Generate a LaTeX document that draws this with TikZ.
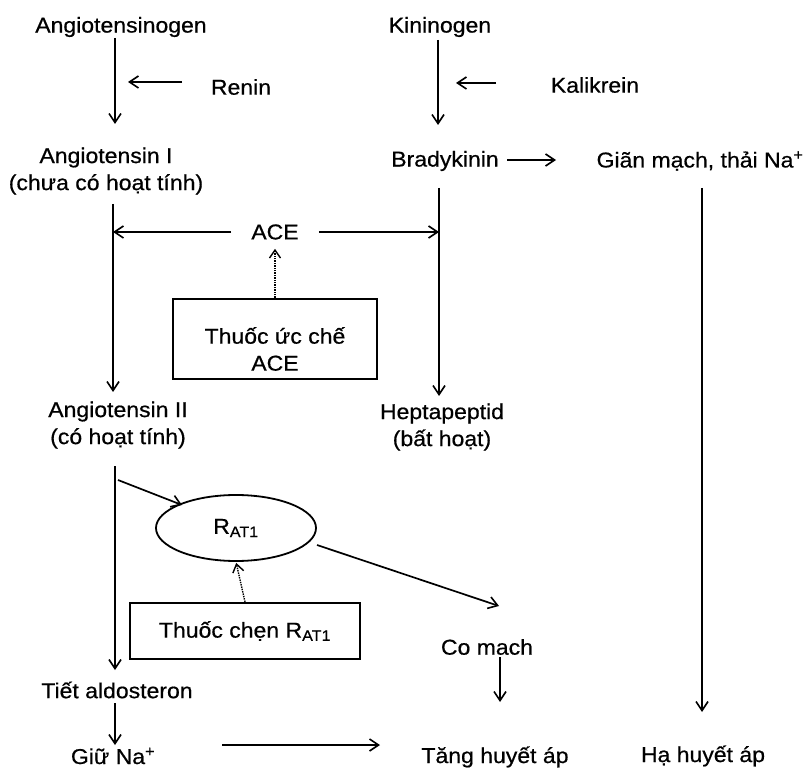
\documentclass[tikz,border=0pt]{standalone}
\usepackage{fontspec}
\setmainfont{Liberation Sans}[FakeStretch=1.07,FakeBold=0.6]
\usetikzlibrary{arrows.meta,shapes.geometric}
\newcommand\mysz{\fontsize{21.5}{27}\selectfont}
\tikzset{
  lbl/.style={inner sep=0pt, align=center, font=\mysz},
  arr/.style={line width=1.7pt, -{Straight Barb[length=9pt,width=12pt,line width=1.6pt]}},
  dotarr/.style={line width=1.4pt, densely dotted, -{Straight Barb[length=8pt,width=11pt,line width=1.4pt,sep=0pt]}},
  boxst/.style={draw, line width=2.2pt, inner sep=0pt, align=center, font=\mysz},
  ellst/.style={draw, ellipse, line width=1.8pt, inner sep=0pt, font=\mysz, minimum width=160pt, minimum height=66pt}
}
\begin{document}
\begin{tikzpicture}[x=1pt,y=-1pt]
\useasboundingbox (0,0) rectangle (807,770);
% nodes
\node[lbl] (angen) at (121,27) {Angiotensinogen};
\node[lbl] (renin) at (241,87) {Renin};
\node[lbl] (kinin) at (440,27) {Kininogen};
\node[lbl] (kali) at (595,85) {Kalikrein};
\node[lbl] (ang1) at (106,171) {Angiotensin I\\(chưa có hoạt tính)};
\node[lbl] (brady) at (445,161) {Bradykinin};
\node[lbl] (gian) at (700,161) {Giãn mạch, thải Na\textsuperscript{+}};
\node[lbl] (ace) at (275,232) {ACE};
\node[boxst, minimum width=204pt, minimum height=80pt] (acebox) at (275,339) {};
\node[lbl] (acetxt) at (275,349) {Thuốc ức chế\\ACE};
\node[lbl] (ang2) at (118,425) {Angiotensin II\\(có hoạt tính)};
\node[lbl] (hepta) at (442,427) {Heptapeptid\\(bất hoạt)};
\node[ellst] (rat) at (236,528) {R\textsubscript{AT1}};
\node[boxst, minimum width=230pt, minimum height=56pt] (arbbox) at (245,631) {Thuốc chẹn R\textsubscript{AT1}};
\node[lbl] (comach) at (487,647) {Co mach};
\node[lbl] (aldo) at (117,690) {Tiết aldosteron};
\node[lbl] (giuna) at (113,756) {Giữ Na\textsuperscript{+}};
\node[lbl] (tang) at (495,757) {Tăng huyết áp};
\node[lbl] (ha) at (703,756) {Hạ huyết áp};
% coordinates for connector ends
\coordinate (a1) at (115,38);  \coordinate (a2) at (115,124);
\coordinate (r1) at (182,82);  \coordinate (r2) at (128,82);
\coordinate (k1) at (438,40);  \coordinate (k2) at (438,125);
\coordinate (kk1) at (496,83); \coordinate (kk2) at (456,83);
\coordinate (l1) at (113,204); \coordinate (l2) at (113,392);
\coordinate (b1) at (439,188); \coordinate (b2) at (439,396);
\coordinate (bg1) at (507,160); \coordinate (bg2) at (556,160);
\coordinate (g1) at (702,188); \coordinate (g2) at (702,712);
\coordinate (l3) at (115,466); \coordinate (l4) at (115,670);
\coordinate (e1) at (118,480); \coordinate (e2) at (182,505);
\coordinate (e3) at (317,545); \coordinate (e4) at (499,606);
\coordinate (c1) at (500,657); \coordinate (c2) at (500,702);
\coordinate (t1) at (115,703); \coordinate (t2) at (115,745);
\coordinate (n1) at (222,745); \coordinate (n2) at (380,745);
% connectors
\draw[arr] (a1) -- (a2);
\draw[arr] (r1) -- (r2);
\draw[arr] (k1) -- (k2);
\draw[arr] (kk1) -- (kk2);
\draw[arr] (l1) -- (l2);
\draw[arr] (b1) -- (b2);
\draw[arr] (bg1) -- (bg2);
\draw[arr] (g1) -- (g2);
\draw[arr, shorten <=20pt] (ace.west) -- (ace.west -| l1);
\draw[arr, shorten <=20pt] (ace.east) -- (ace.east -| b1);
\draw[dotarr, shorten >=9pt] (acebox.north) -- (ace.south);
\draw[arr] (l3) -- (l4);
\draw[arr] (e1) -- (e2);
\draw[arr] (e3) -- (e4);
\draw[dotarr, shorten >=1pt] (arbbox.north) -- (rat.south);
\draw[arr] (c1) -- (c2);
\draw[arr] (t1) -- (t2);
\draw[arr] (n1) -- (n2);
\end{tikzpicture}
\end{document}
